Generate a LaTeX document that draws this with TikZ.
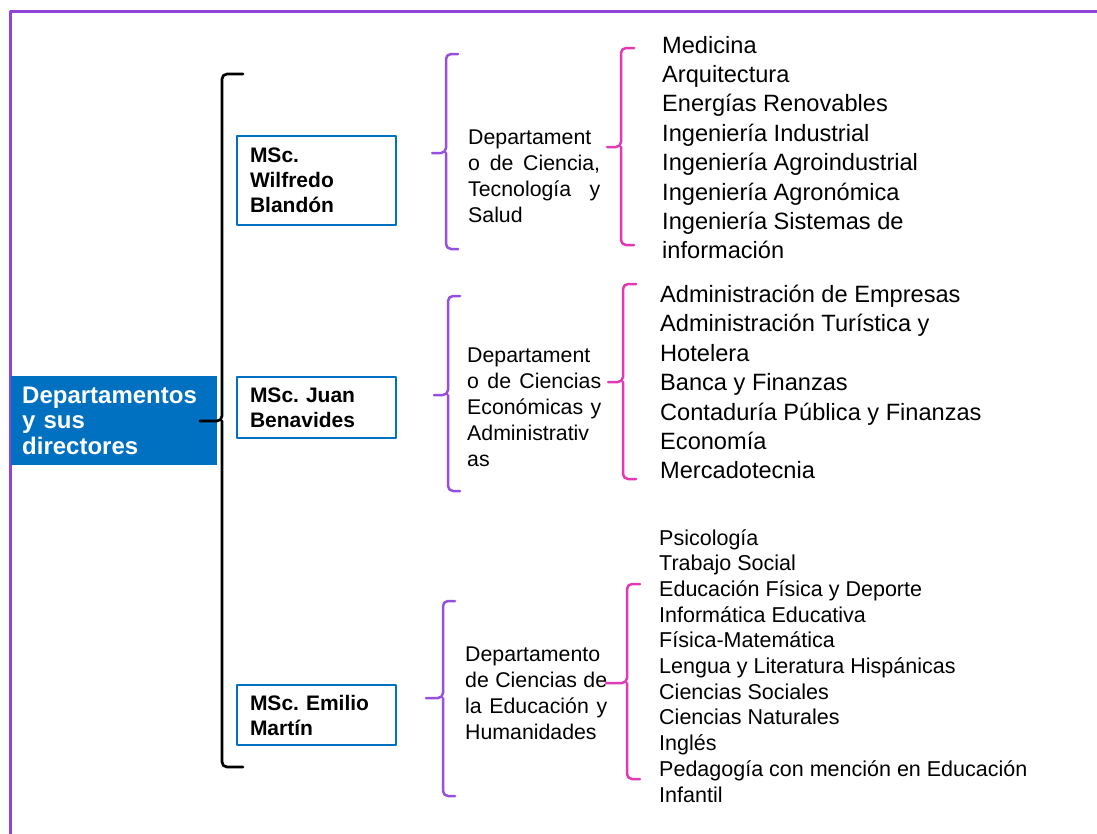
\documentclass[tikz,border=0pt]{standalone}
\usepackage{fontspec}
\setmainfont{Liberation Sans}
\usetikzlibrary{positioning}
\frenchspacing

\definecolor{framepurple}{RGB}{142,68,216}
\definecolor{bracepurple}{RGB}{150,80,224}
\definecolor{bracepink}{RGB}{226,56,180}
\definecolor{boxblue}{RGB}{0,112,192}

\tikzset{
  rootbox/.style={fill=boxblue, text=white, anchor=north west, inner xsep=11pt, inner ysep=0pt,
    text width=184pt, minimum height=89pt, align=left, font=\fontsize{24}{25.5}\selectfont\bfseries},
  dirbox/.style={draw=boxblue, line width=2pt, fill=white, anchor=north west, inner xsep=13pt,
    inner ysep=0pt, text width=133pt, align=left, font=\fontsize{21}{25}\selectfont\bfseries},
  depttext/.style={anchor=north west, inner sep=0pt, align=justify, font=\fontsize{21.3}{26}\selectfont},
  bigitem/.style={anchor=base west, inner sep=0pt, font=\fontsize{23.6}{29.4}\selectfont},
  smallitem/.style={anchor=base west, inner sep=0pt, font=\fontsize{21.5}{25.7}\selectfont},
  brace/.style={line width=2.5pt, rounded corners=5pt, line cap=round}
}

\begin{document}
\begin{tikzpicture}[x=1pt,y=-1pt,line join=round]
        \useasboundingbox (0,0) rectangle (1097,833);
        % frame
        \draw[framepurple, line width=3pt] (10,840) -- (10,11) -- (1100,11);
        % root and directors
        \node[rootbox] (root) at (11,376) {Departamentos\\y sus\\directores};
        \node[dirbox, minimum height=89pt] (wilfredo) at (236,135) {MSc.\\Wilfredo\\Blandón};
        \node[dirbox, minimum height=61pt] (juan) at (236,376) {MSc. Juan\\Benavides};
        \node[dirbox, minimum height=60pt] (emilio) at (236,684) {MSc. Emilio\\Martín};
        % 
        \draw[brace, black, line width=2.7pt] (243,74) -- (222,74) -- (222,421) -- (200,421)
          (222,421) -- (222,767) -- (243,767);
        % departments
        \node[depttext, text width=132pt] (cts) at (468,130)
          {Departament\linebreak o de Ciencia,\linebreak Tecnología y\linebreak Salud};
        \node[depttext, text width=134pt] (cea) at (467,348)
          {Departament\linebreak o de Ciencias\linebreak Económicas y\linebreak Administrativ\linebreak as};
        \node[depttext, text width=142pt] (ceh) at (465,647)
          {Departamento\linebreak de Ciencias de\linebreak la Educación y\linebreak Humanidades};
        % 
        \draw[brace, bracepurple] (458,54) -- (446,54) -- (446,153) -- (432,153)
          (446,153) -- (446,249) -- (458,249);
        \draw[brace, bracepurple] (460,296) -- (448,296) -- (448,395) -- (434,395)
          (448,395) -- (448,491) -- (460,491);
        \draw[brace, bracepurple] (455,601) -- (443,601) -- (443,698) -- (426,698)
          (443,698) -- (443,796) -- (455,796);
        % careers
        \foreach \t [count=\i from 0] in {Medicina, Arquitectura, Energías Renovables,
            Ingeniería Industrial, Ingeniería Agroindustrial, Ingeniería Agronómica,
            Ingeniería Sistemas de, información}
          \node[bigitem] (cts\i) at (662,{53+29.4*\i}) {\t};
        \foreach \t [count=\i from 0] in {Administración de Empresas, Administración Turística y,
            Hotelera, Banca y Finanzas, Contaduría Pública y Finanzas, Economía, Mercadotecnia}
          \node[bigitem] (cea\i) at (660,{302.5+29.4*\i}) {\t};
        \foreach \t [count=\i from 0] in {Psicología, Trabajo Social, Educación Física y Deporte,
            Informática Educativa, Física-Matemática, Lengua y Literatura Hispánicas,
            Ciencias Sociales, Ciencias Naturales, Inglés,
            Pedagogía con mención en Educación, Infantil}
          \node[smallitem] (ceh\i) at (659,{545+25.7*\i}) {\t};
        % 
        \draw[brace, bracepink] (634,48) -- (621,48) -- (621,147) -- (607,147)
          (621,147) -- (621,245) -- (634,245);
        \draw[brace, bracepink] (636,284) -- (623,284) -- (623,382) -- (608,382)
          (623,382) -- (623,479) -- (636,479);
        \draw[brace, bracepink] (640,584) -- (627,584) -- (627,683) -- (606,683)
          (627,683) -- (627,779) -- (640,779);
      \end{tikzpicture}
\end{document}
